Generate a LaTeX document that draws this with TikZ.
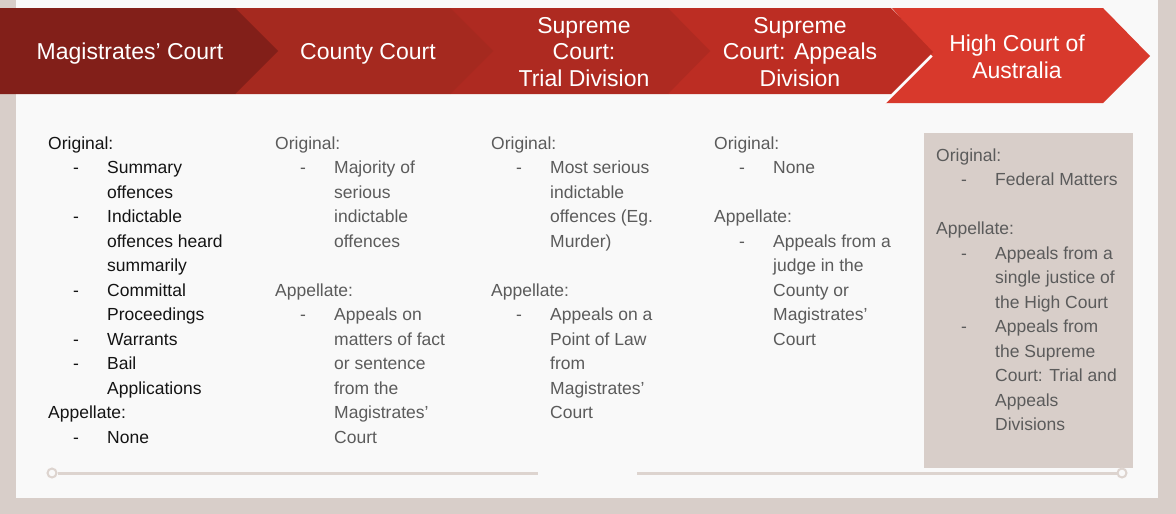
\documentclass[tikz,border=0pt]{standalone}
\usepackage{fontspec}
\setmainfont{Liberation Sans}
\usetikzlibrary{positioning}
\definecolor{outerbg}{HTML}{D8CEC9}
\definecolor{panelbg}{HTML}{F9F9F9}
\definecolor{magred}{HTML}{821F19}
\definecolor{cntred}{HTML}{A5291F}
\definecolor{trialred}{HTML}{AE2A21}
\definecolor{appred}{HTML}{BC2D23}
\definecolor{highred}{HTML}{D8392C}
\definecolor{bodygrey}{HTML}{5B5B5B}
\definecolor{bodyblack}{HTML}{141414}
\definecolor{tlgrey}{HTML}{DDD4CF}

\begin{document}
\begin{tikzpicture}[
  x=1pt, y=-1pt,
  chevtext/.style={text=white, align=center, inner sep=0pt,
                   font=\fontsize{23}{26.5}\selectfont},
  coltext/.style={anchor=north west, inner sep=0pt, text=bodygrey,
                  font=\fontsize{17.5}{24.5}\selectfont},
  infobox/.style={anchor=north west, fill=outerbg, inner sep=0pt},
  tline/.style={draw=tlgrey, line width=3pt},
  tlend/.style={circle, draw=tlgrey, line width=2pt, fill=panelbg,
                minimum size=9pt, inner sep=0pt}
]
% --- background ---
\fill[outerbg] (0,0) rectangle (1176,514);
\fill[panelbg] (16,0) rectangle (1158,498);

% --- chevron band ---
\fill[highred] (892,8) -- (1103,8) -- (1150,56) -- (1103,103) -- (885,103) -- (932,56) -- cycle;
\fill[appred] (668,8) -- (891,8) -- (933,52) -- (891,94) -- (668,94) -- cycle;
\fill[trialred] (450,8) -- (668,8) -- (710,51) -- (668,94) -- (450,94) -- cycle;
\fill[cntred] (235,8) -- (450,8) -- (493,51) -- (450,94) -- (235,94) -- cycle;
\fill[magred] (0,8) -- (235,8) -- (278,51) -- (235,94) -- (0,94) -- cycle;
\draw[white, line width=1.5pt] (932,56) -- (885,103);

\node[chevtext] (magname)   at (130,53.5) {Magistrates’ Court};
\node[chevtext] (cntname)   at (368,53.5) {County Court};
\node[chevtext] (trialname) at (584,52)   {Supreme\\Court:\\Trial Division};
\node[chevtext] (appname)   at (800,52)   {Supreme\\Court: Appeals\\Division};
\node[chevtext] (highname)  at (1017,57)  {High Court of\\Australia};

% --- columns ---
\node[coltext, text=bodyblack] (magcol) at (48,132) {%
\begin{tabular}{@{\hspace{25pt}}p{34pt}@{}l@{}}
\multicolumn{2}{@{}l@{}}{Original:}\\
- & Summary\\
  & offences\\
- & Indictable\\
  & offences heard\\
  & summarily\\
- & Committal\\
  & Proceedings\\
- & Warrants\\
- & Bail\\
  & Applications\\
\multicolumn{2}{@{}l@{}}{Appellate:}\\
- & None
\end{tabular}};

\node[coltext] (cntcol) at (275,132) {%
\begin{tabular}{@{\hspace{25pt}}p{34pt}@{}l@{}}
\multicolumn{2}{@{}l@{}}{Original:}\\
- & Majority of\\
  & serious\\
  & indictable\\
  & offences\\
  & \\
\multicolumn{2}{@{}l@{}}{Appellate:}\\
- & Appeals on\\
  & matters of fact\\
  & or sentence\\
  & from the\\
  & Magistrates’\\
  & Court
\end{tabular}};

\node[coltext] (trialcol) at (491,132) {%
\begin{tabular}{@{\hspace{25pt}}p{34pt}@{}l@{}}
\multicolumn{2}{@{}l@{}}{Original:}\\
- & Most serious\\
  & indictable\\
  & offences (Eg.\\
  & Murder)\\
  & \\
\multicolumn{2}{@{}l@{}}{Appellate:}\\
- & Appeals on a\\
  & Point of Law\\
  & from\\
  & Magistrates’\\
  & Court
\end{tabular}};

\node[coltext] (appcol) at (714,132) {%
\begin{tabular}{@{\hspace{25pt}}p{34pt}@{}l@{}}
\multicolumn{2}{@{}l@{}}{Original:}\\
- & None\\
  & \\
\multicolumn{2}{@{}l@{}}{Appellate:}\\
- & Appeals from a\\
  & judge in the\\
  & County or\\
  & Magistrates’\\
  & Court
\end{tabular}};

\node[infobox, minimum width=209pt, minimum height=335pt] (hcbox) at (924,133) {};
\node[coltext] (highcol) at (936,144) {%
\begin{tabular}{@{\hspace{25pt}}p{34pt}@{}l@{}}
\multicolumn{2}{@{}l@{}}{Original:}\\
- & Federal Matters\\
  & \\
\multicolumn{2}{@{}l@{}}{Appellate:}\\
- & Appeals from a\\
  & single justice of\\
  & the High Court\\
- & Appeals from\\
  & the Supreme\\
  & Court: Trial and\\
  & Appeals\\
  & Divisions
\end{tabular}};

% --- timeline ---
\node[tlend] (tlstart) at (52,473) {};
\coordinate (tlbreak) at (538,473);
\coordinate (tlresume) at (637,473);
\node[tlend] (tlstop) at (1122,473) {};
\draw[tline] (tlstart) -- (tlbreak);
\draw[tline] (tlresume) -- (tlstop);

\end{tikzpicture}
\end{document}
